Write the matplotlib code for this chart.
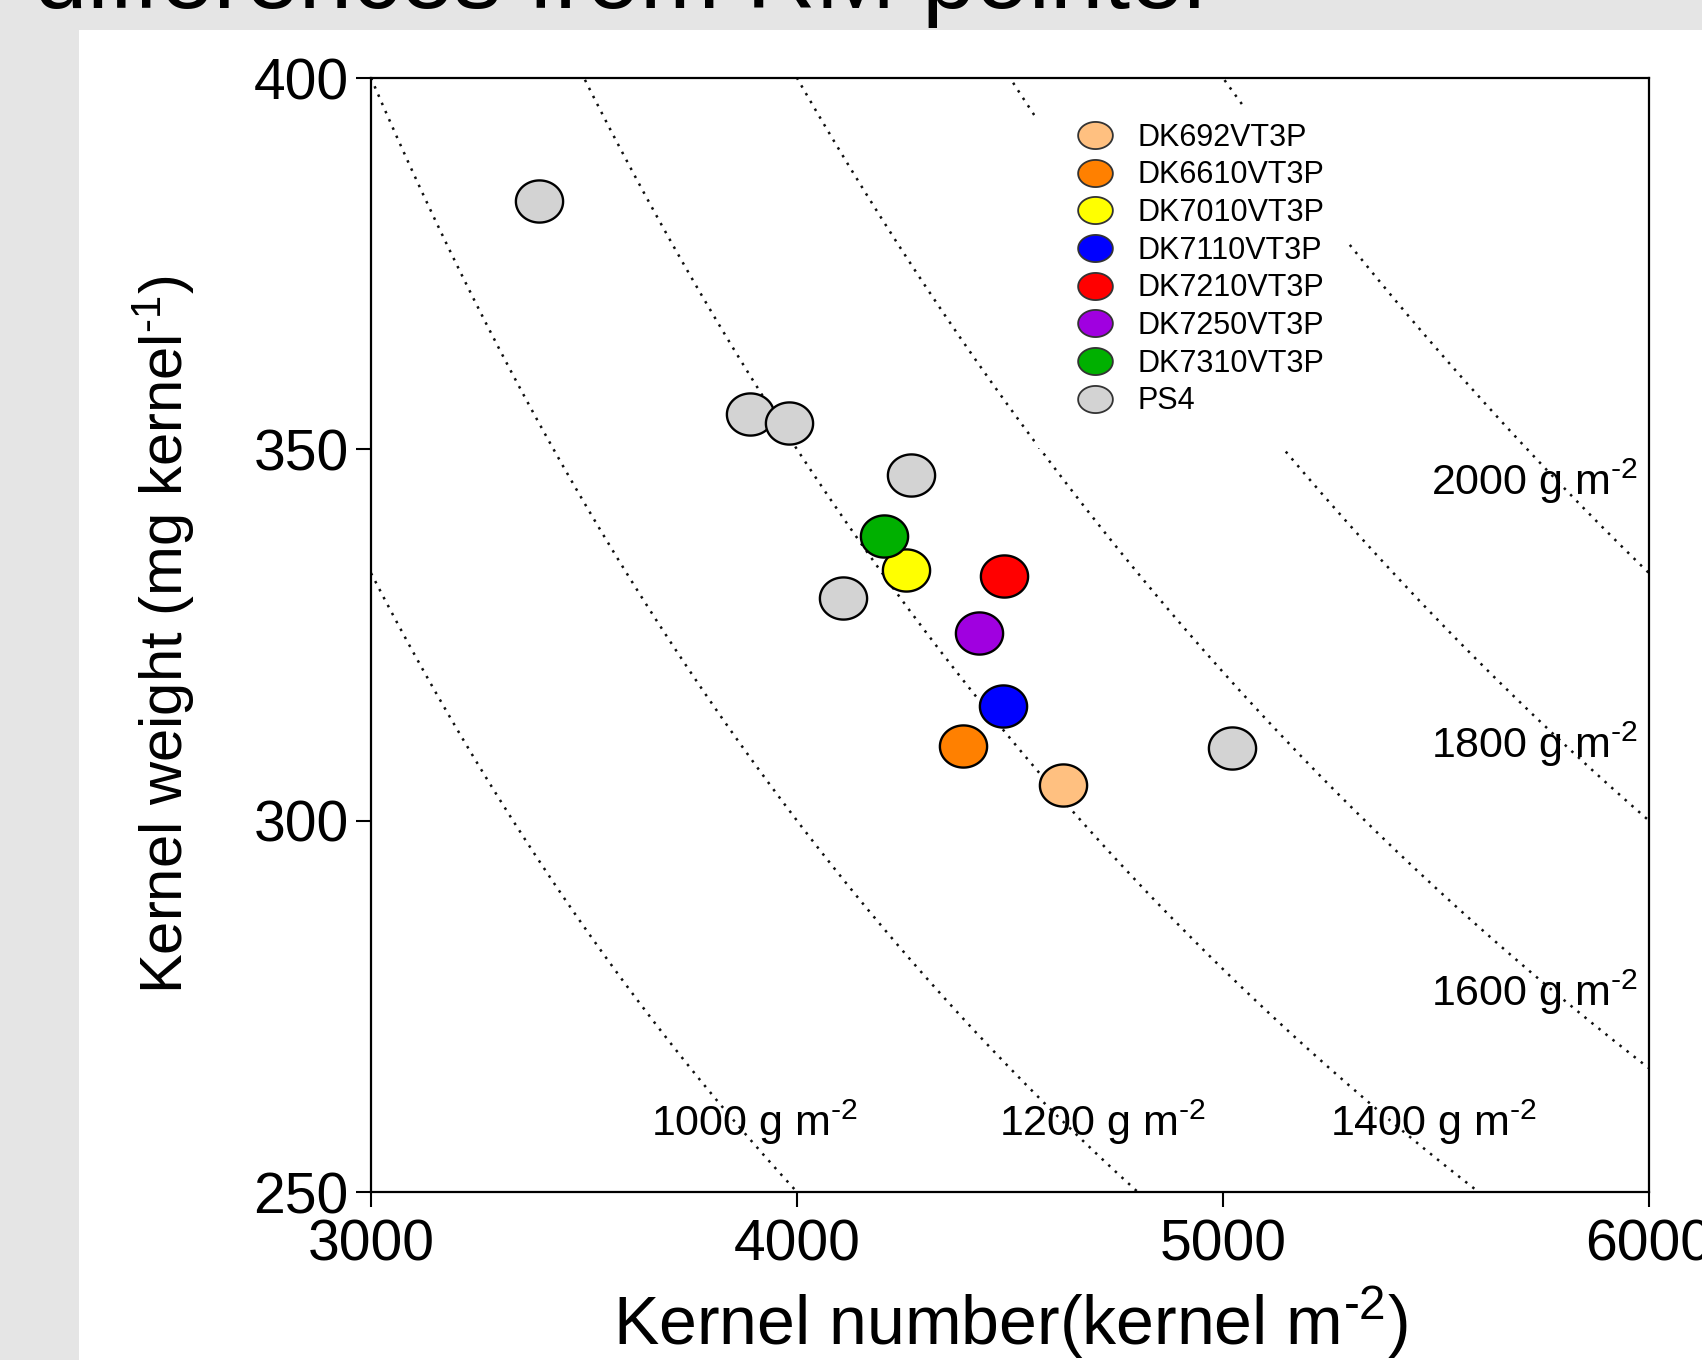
import numpy as np
import matplotlib
matplotlib.use("Agg")
import matplotlib.pyplot as plt
from matplotlib.path import Path
from matplotlib.lines import Line2D
from matplotlib.patches import Rectangle

plt.rcParams['font.family'] = ['Liberation Sans', 'DejaVu Sans']
plt.rcParams['mathtext.fontset'] = 'custom'
plt.rcParams['mathtext.rm'] = 'Liberation Sans'
plt.rcParams['mathtext.it'] = 'Liberation Sans'
plt.rcParams['axes.unicode_minus'] = False

# data
hybrids = ['DK692VT3P', 'DK6610VT3P', 'DK7010VT3P', 'DK7110VT3P',
           'DK7210VT3P', 'DK7250VT3P', 'DK7310VT3P', 'PS4']
colors = ['#ffc080', '#ff8000', '#ffff00', '#0000ff',
          '#ff0000', '#a000e0', '#00b000', '#d3d3d3']
point_hybrid = ['DK692VT3P', 'DK6610VT3P', 'DK7010VT3P', 'DK7110VT3P',
                'DK7210VT3P', 'DK7250VT3P', 'DK7310VT3P',
                'PS4', 'PS4', 'PS4', 'PS4', 'PS4', 'PS4']
kernel_number = [4624, 4390, 4257, 4484, 4486, 4428, 4205,
                 3395, 3890, 3982, 4268, 4109, 5020]
kernel_weight = [304.8, 310.1, 333.7, 315.4, 333.0, 325.3, 338.3,
                 383.5, 354.8, 353.5, 346.6, 330.0, 309.8]
yield_levels = [1000, 1200, 1400, 1600, 1800, 2000]  # g m-2


def ellipse_marker(ratio):
    t = np.linspace(0, 2 * np.pi, 80)
    v = np.column_stack([ratio * np.cos(t), np.sin(t)])
    return Path(v, closed=True)


def unit(s):
    return s + ' m$^{\\text{-2}}$'


W, H = 1702, 1360
fig = plt.figure(figsize=(W / 100, H / 100), dpi=100, facecolor='#e5e5e5')
fig.add_artist(Rectangle((79 / W, 0), 1 - 79 / W, 1 - 30 / H,
                         transform=fig.transFigure, facecolor='white',
                         edgecolor='none', zorder=-5))
fig.text(34 / W, 1 - 8 / H, 'differences from RM pointer', fontsize=69,
         ha='left', va='baseline', color='black')

ax = fig.add_axes([371 / W, 1 - 1192 / H, 1278 / W, 1114 / H])
ax.patch.set_alpha(0)

# iso-yield curves: yield (g m-2) = kernel number * kernel weight / 1000
kn = np.linspace(3000, 6000, 400)
for yl in yield_levels:
    kw = yl * 1000 / kn
    ax.plot(kn, kw, color='#111111', lw=1.8, ls=(0, (1, 2.6)), zorder=1)

mk_pt = ellipse_marker(1.12)
for x, y, h in zip(kernel_number, kernel_weight, point_hybrid):
    ax.plot(x, y, marker=mk_pt, ms=34, color=colors[hybrids.index(h)],
            mec='black', mew=1.7, ls='none', zorder=5)

# white area behind the legend hides the dotted curves
ax.add_patch(Rectangle((0.5196, 0.668), 0.245, 0.308, transform=ax.transAxes,
                       facecolor='white', edgecolor='none', zorder=2))
mk_leg = ellipse_marker(1.28)
handles = [Line2D([], [], marker=mk_leg, ms=25, color=c, mec='#333333',
                  mew=1.3, ls='none') for c in colors]
leg = ax.legend(handles, hybrids, loc='upper left',
                bbox_to_anchor=(0.5356, 0.979), fontsize=22, frameon=False,
                labelspacing=0.25, handletextpad=0.8, borderpad=0.2,
                handlelength=1.2)
leg.set_zorder(3)

lab = dict(fontsize=31, zorder=4)
ax.text(5975, 343.8, unit('2000 g'), ha='right', va='baseline', **lab)
ax.text(5975, 308.4, unit('1800 g'), ha='right', va='baseline', **lab)
ax.text(5975, 275.1, unit('1600 g'), ha='right', va='baseline', **lab)
ax.text(3657, 257.6, unit('1000 g'), ha='left', va='baseline', **lab)
ax.text(4474, 257.6, unit('1200 g'), ha='left', va='baseline', **lab)
ax.text(5251, 257.6, unit('1400 g'), ha='left', va='baseline', **lab)

ax.set_xlim(3000, 6000)
ax.set_ylim(250, 400)
ax.set_xticks([3000, 4000, 5000, 6000])
ax.set_yticks([250, 300, 350, 400])
ax.tick_params(direction='out', length=11, width=1.5, labelsize=41)
ax.tick_params(axis='y', pad=5)
ax.tick_params(axis='x', pad=8)
for s in ax.spines.values():
    s.set_linewidth(1.6)

ax.set_xlabel('Kernel number(kernel m$^{\\text{-2}}$)', fontsize=49)
ax.set_ylabel('Kernel weight (mg kernel$^{\\text{-1}}$)', fontsize=43)
ax.xaxis.set_label_coords(0.5, -0.083)
ax.yaxis.set_label_coords(-0.136, 0.5)
ax.xaxis.label.set_va('top')

fig.savefig('out.png', dpi=100, facecolor=fig.get_facecolor())
